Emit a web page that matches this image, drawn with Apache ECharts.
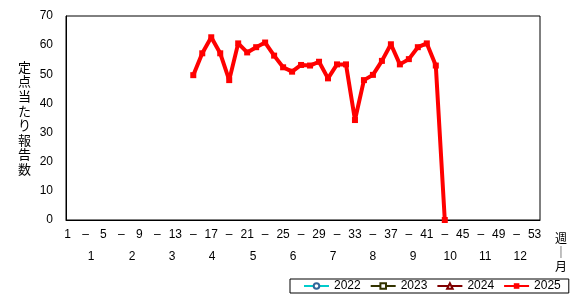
<!DOCTYPE html>
<html>
<head>
<meta charset="utf-8">
<script src="https://cdn.jsdelivr.net/npm/echarts@6/dist/echarts.min.js"></script>
<style>html,body{margin:0;padding:0;background:#fff;}#c{width:579px;height:299px;}</style>
</head>
<body>
<div id="c"></div>
<script>
// ---- data ----
const seriesNames = ['2022', '2023', '2024', '2025'];
const weeks2022 = [];
const values2022 = [];
const weeks2023 = [];
const values2023 = [];
const weeks2024 = [];
const values2024 = [];
const weeks2025 = [15, 16, 17, 18, 19, 20, 21, 22, 23, 24, 25, 26, 27, 28, 29, 30, 31, 32, 33, 34, 35, 36, 37, 38, 39, 40, 41, 42, 43];
const values2025 = [49.7, 57.2, 62.7, 57.2, 48.0, 60.6, 57.5, 59.3, 60.9, 56.4, 52.4, 50.9, 53.2, 53.0, 54.3, 48.6, 53.4, 53.4, 34.3, 48.0, 49.8, 54.6, 60.3, 53.4, 55.2, 59.3, 60.6, 53.0, 0];
const weekTickPos = [1, 3, 5, 7, 9, 11, 13, 15, 17, 19, 21, 23, 25, 27, 29, 31, 33, 35, 37, 39, 41, 43, 45, 47, 49, 51, 53];
const weekTickLabels = ['1', '–', '5', '–', '9', '–', '13', '–', '17', '–', '21', '–', '25', '–', '29', '–', '33', '–', '37', '–', '41', '–', '45', '–', '49', '–', '53'];
const monthPos = [3.61, 8.18, 12.63, 17.1, 21.65, 26.1, 30.56, 35.0, 39.47, 43.6, 47.5, 51.4];
const monthLabels = ['1', '2', '3', '4', '5', '6', '7', '8', '9', '10', '11', '12'];

function pairs(w, v) { return w.map((x, i) => [x, v[i]]); }

const FONT = '"Liberation Sans", Arial, "Noto Sans CJK JP", sans-serif';
const JFONT = '"Noto Sans CJK JP", sans-serif';
const XMIN = 0.83, XMAX = 53.6;

const chart = echarts.init(document.getElementById('c'), null, { renderer: 'canvas' });
chart.setOption({
  animation: false,
  backgroundColor: '#fff',
  grid: { left: 66, right: 39, top: 16, bottom: 79, show: true, borderColor: '#000', borderWidth: 1, backgroundColor: 'transparent' },
  xAxis: [
    {
      type: 'value', min: XMIN, max: XMAX, position: 'bottom',
      axisLine: { show: true, onZero: false, lineStyle: { color: '#000', width: 1 } },
      axisTick: { show: false },
      splitLine: { show: false },
      axisLabel: {
        customValues: weekTickPos,
        formatter: v => weekTickLabels[weekTickPos.indexOf(Math.round(v))] || '',
        color: '#000', fontSize: 12, fontFamily: FONT, margin: 9
      }
    },
    {
      type: 'value', min: XMIN, max: XMAX, position: 'bottom',
      axisLine: { show: false }, axisTick: { show: false }, splitLine: { show: false },
      axisLabel: {
        customValues: monthPos,
        formatter: v => { let i = monthPos.findIndex(p => Math.abs(p - v) < 1e-6); return i >= 0 ? monthLabels[i] : ''; },
        color: '#000', fontSize: 12, fontFamily: FONT, margin: 31
      }
    }
  ],
  yAxis: {
    type: 'value', min: 0, max: 70, interval: 10,
    axisLine: { show: true, lineStyle: { color: '#000', width: 1 } },
    axisTick: { show: false },
    splitLine: { show: false },
    axisLabel: { color: '#000', fontSize: 12, fontFamily: FONT, margin: 13 },
    name: '定\n点\n当\nた\nり\n報\n告\n数',
    nameLocation: 'middle', nameRotate: 0, nameGap: 35,
    nameTextStyle: { color: '#000', fontSize: 13, fontFamily: JFONT, lineHeight: 14.6 }
  },
  legend: {
    left: 290, top: 279,
    data: seriesNames,
    borderColor: '#000', borderWidth: 1,
    padding: [1, 8, 1, 13],
    itemWidth: 25, itemHeight: 7, itemGap: 9,
    textStyle: { color: '#000', fontSize: 12, fontFamily: FONT }
  },
  graphic: [{
    type: 'text',
    style: { text: '週\n｜\n月', x: 561, y: 231, textAlign: 'center', fill: '#000', font: '12px "Noto Sans CJK JP"', lineHeight: 14 }
  }],
  series: [
    { name: '2022', type: 'line', data: pairs(weeks2022, values2022), color: '#00cccc',
      lineStyle: { color: '#00cccc', width: 1 }, symbol: 'circle', symbolSize: 4,
      itemStyle: { color: '#fff', borderColor: '#336699', borderWidth: 1.5 } },
    { name: '2023', type: 'line', data: pairs(weeks2023, values2023), color: '#333300',
      lineStyle: { color: '#333300', width: 1.5 }, symbol: 'rect', symbolSize: 5,
      itemStyle: { color: '#fff', borderColor: '#333300', borderWidth: 1.5 } },
    { name: '2024', type: 'line', data: pairs(weeks2024, values2024), color: '#800000',
      lineStyle: { color: '#800000', width: 3 }, symbol: 'triangle', symbolSize: 6,
      itemStyle: { color: '#fff', borderColor: '#800000', borderWidth: 1.5 } },
    { name: '2025', type: 'line', data: pairs(weeks2025, values2025), color: '#ff0000',
      lineStyle: { color: '#ff0000', width: 4 }, symbol: 'rect', symbolSize: 6,
      itemStyle: { color: '#ff0000' } }
  ]
});
</script>
</body>
</html>
